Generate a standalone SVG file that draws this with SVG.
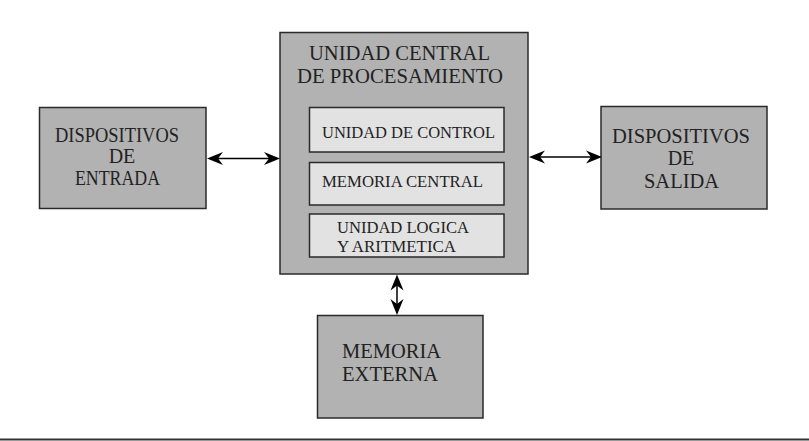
<svg xmlns="http://www.w3.org/2000/svg" width="809" height="441" viewBox="0 0 809 441">
<style>
.box{fill:#b2b2b2;stroke:#2a2a2a;stroke-width:1.5}
.inner{fill:#e2e2e2;stroke:#2a2a2a;stroke-width:1.5}
text{fill:#222;font-family:"Liberation Serif","Times New Roman",serif}
.big{font-size:21px}
.mid{font-size:20px}
.small{font-size:16px}
.conn{stroke:#000;stroke-width:1.5;fill:none}
.head{fill:#000}
</style>
<defs>
<path id="ah" class="head" d="M0,0 L-16,-6.5 L-11,0 L-16,6.5 Z"/>
</defs>
<rect width="809" height="441" fill="#fff"/>
<line x1="0" y1="439.5" x2="809" y2="439.5" stroke="#333" stroke-width="2"/>
<g id="cpu">
<rect class="box" x="280" y="32.5" width="248" height="241.5"/>
<text class="big" x="309" y="60" textLength="181" lengthAdjust="spacingAndGlyphs">UNIDAD CENTRAL</text>
<text class="big" x="297" y="83" textLength="206" lengthAdjust="spacingAndGlyphs">DE PROCESAMIENTO</text>
</g>
<g id="uc">
<rect class="inner" x="309.5" y="107.5" width="194.5" height="44.5"/>
<text class="small" x="322" y="138" textLength="173" lengthAdjust="spacingAndGlyphs">UNIDAD DE CONTROL</text>
</g>
<g id="mc">
<rect class="inner" x="309.5" y="162.5" width="194.5" height="42.5"/>
<text class="small" x="322" y="187" textLength="161" lengthAdjust="spacingAndGlyphs">MEMORIA CENTRAL</text>
</g>
<g id="ula">
<rect class="inner" x="309.5" y="214" width="194.5" height="43"/>
<text class="small" x="337" y="233" textLength="132" lengthAdjust="spacingAndGlyphs">UNIDAD LOGICA</text>
<text class="small" x="337" y="252" textLength="119" lengthAdjust="spacingAndGlyphs">Y ARITMETICA</text>
</g>
<g id="entrada">
<rect class="box" x="39.5" y="107.5" width="166.5" height="101"/>
<text class="mid" x="55" y="142" textLength="124" lengthAdjust="spacingAndGlyphs">DISPOSITIVOS</text>
<text class="mid" x="122" y="163" text-anchor="middle">DE</text>
<text class="mid" x="75" y="185" textLength="85" lengthAdjust="spacingAndGlyphs">ENTRADA</text>
</g>
<g id="salida">
<rect class="box" x="601" y="106.5" width="166" height="102.5"/>
<text class="mid" x="612" y="143" textLength="138" lengthAdjust="spacingAndGlyphs">DISPOSITIVOS</text>
<text class="mid" x="681" y="165" text-anchor="middle">DE</text>
<text class="mid" x="644" y="188" textLength="75" lengthAdjust="spacingAndGlyphs">SALIDA</text>
</g>
<g id="memext">
<rect class="box" x="317.5" y="315.5" width="165.5" height="102.5"/>
<text class="mid" x="342" y="358" textLength="99" lengthAdjust="spacingAndGlyphs">MEMORIA</text>
<text class="mid" x="342" y="381" textLength="96" lengthAdjust="spacingAndGlyphs">EXTERNA</text>
</g>
<g id="connectors">
<line class="conn" x1="212" y1="158.5" x2="275" y2="158.5"/>
<use href="#ah" transform="translate(207,158.5) rotate(180)"/>
<use href="#ah" transform="translate(280,158.5)"/>
<line class="conn" x1="534" y1="157" x2="597" y2="157"/>
<use href="#ah" transform="translate(529,157) rotate(180)"/>
<use href="#ah" transform="translate(602,157)"/>
<line class="conn" x1="397" y1="280" x2="397" y2="310"/>
<use href="#ah" transform="translate(397,274.5) rotate(-90)"/>
<use href="#ah" transform="translate(397,315) rotate(90)"/>
</g>
</svg>
